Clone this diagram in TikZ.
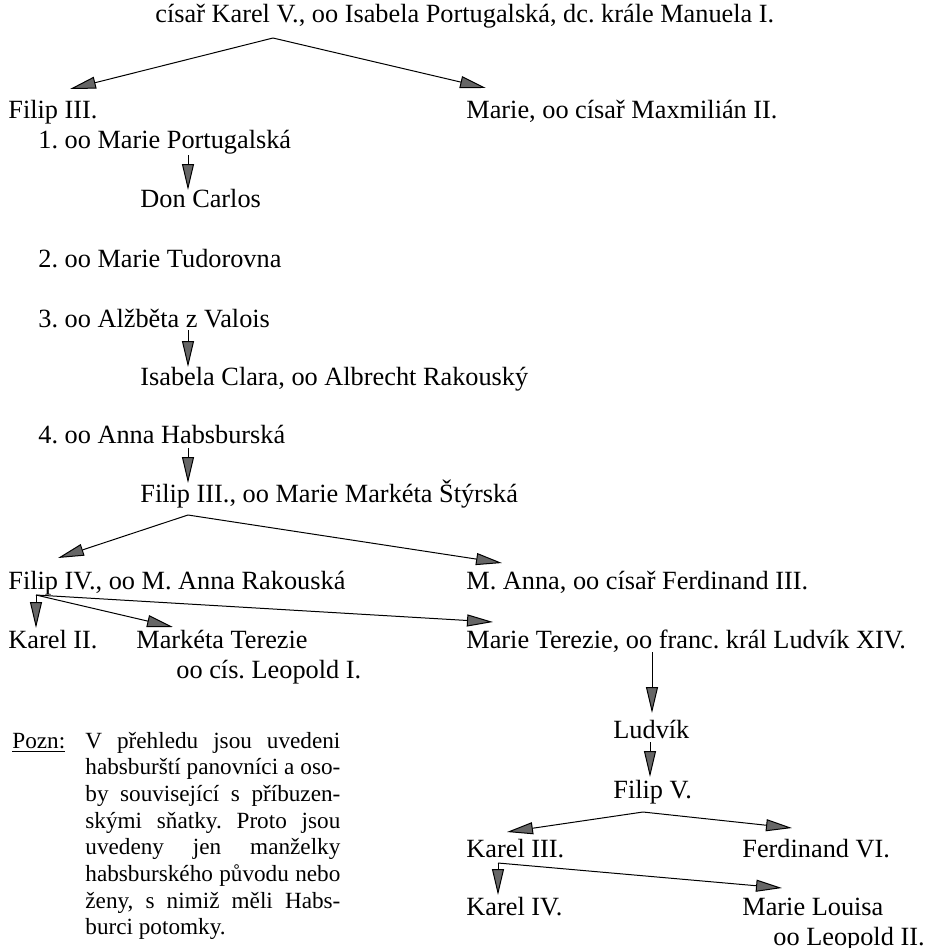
\documentclass[tikz,border=0pt]{standalone}
\usepackage{fontspec}
\setmainfont{Liberation Serif}
\usetikzlibrary{arrows.meta}
\frenchspacing

\begin{document}
\begin{tikzpicture}[x=0.5pt,y=-0.5pt]
    \tikzstyle{edge}=[draw,line width = .5pt,black,-{Triangle[length=13pt,width=6pt,fill=black!60]}]
    \tikzstyle{person}=[anchor=base west,inner sep=0pt,font=\fontsize{13.15}{15}\selectfont]
    \tikzstyle{note}=[anchor=base west,inner sep=0pt,font=\fontsize{11.6}{13.35}\selectfont]
    \useasboundingbox (0,0) rectangle (931,948);
    % people
    \node[person] (karel5) at (155,22) {císař Karel V., oo Isabela Portugalská, dc. krále Manuela I.};
    \node[person] (filip2) at (8,118) {Filip III.};
    \node[person] (marie) at (466,118) {Marie, oo císař Maxmilián II.};
    \node[person] (wife1) at (38,148) {1. oo Marie Portugalská};
    \node[person] (carlos) at (140,207) {Don Carlos};
    \node[person] (wife2) at (38,267) {2. oo Marie Tudorovna};
    \node[person] (wife3) at (38,327) {3. oo Alžběta z Valois};
    \node[person] (isabela) at (140,385) {Isabela Clara, oo Albrecht Rakouský};
    \node[person] (wife4) at (38,443) {4. oo Anna Habsburská};
    \node[person] (filip3) at (140,502) {Filip III., oo Marie Markéta Štýrská};
    \node[person] (filip4) at (8,589) {Filip IV., oo M. Anna Rakouská};
    \node[person] (manna) at (466,589) {M. Anna, oo císař Ferdinand III.};
    \node[person] (karel2) at (8,648) {Karel II.};
    \node[person] (marketa) at (136,648) {Markéta Terezie};
    \node[person] (leopold1) at (176,678) {oo cís. Leopold I.};
    \node[person] (mterezie) at (466,648) {Marie Terezie, oo franc. král Ludvík XIV.};
    \node[person] (ludvik) at (613,738) {Ludvík};
    \node[person] (filip5) at (613,798) {Filip V.};
    \node[person] (karel3) at (466,857) {Karel III.};
    \node[person] (ferd6) at (742,857) {Ferdinand VI.};
    \node[person] (karel4) at (466,915) {Karel IV.};
    \node[person] (mlouisa) at (742,915) {Marie Louisa};
    \node[person,anchor=base east] (leopold2) at (925,945) {oo Leopold II.};
    % note
    \node[note] (pozn) at (12,748) {\underline{Pozn:}};
    \node[note] (pozntext) at (85,748) {\parbox[t]{127.5pt}{%
        \makebox[\linewidth][s]{V přehledu jsou uvedeni}\\
        \makebox[\linewidth][s]{habsburští panovníci a oso-}\\
        \makebox[\linewidth][s]{by související s příbuzen-}\\
        \makebox[\linewidth][s]{skými sňatky. Proto jsou}\\
        \makebox[\linewidth][s]{uvedeny jen manželky}\\
        \makebox[\linewidth][s]{habsburského původu nebo}\\
        \makebox[\linewidth][s]{ženy, s nimiž měli Habs-}\\
        burci potomky.}};
    % branch points and tips
    \coordinate (k5out) at (273,38);
    \coordinate (f2in) at (70,89);
    \coordinate (marin) at (486,88);
    \coordinate (w1out) at (188,155);
    \coordinate (carin) at (188,190);
    \coordinate (w3out) at (188,330);
    \coordinate (isin) at (188,367);
    \coordinate (w4out) at (188,448);
    \coordinate (f3in) at (188,483);
    \coordinate (f3out) at (188,515);
    \coordinate (f4in) at (58,558);
    \coordinate (mannain) at (502,563);
    \coordinate (f4out) at (36,595);
    \coordinate (k2in) at (36,628);
    \coordinate (mtin) at (173,627);
    \coordinate (mterin) at (493,622);
    \coordinate (mterout) at (652,652);
    \coordinate (ludin) at (652,713);
    \coordinate (ludout) at (650,742);
    \coordinate (f5in) at (650,777);
    \coordinate (f5out) at (643,812);
    \coordinate (k3in) at (507,832);
    \coordinate (fd6in) at (792,828);
    \coordinate (k3out) at (498,863);
    \coordinate (k4in) at (498,895);
    \coordinate (mlin) at (782,888);
    % arrows
    \draw[edge] (k5out) -- (f2in);
    \draw[edge] (k5out) -- (marin);
    \draw[edge] (w1out) -- (carin);
    \draw[edge] (w3out) -- (isin);
    \draw[edge] (w4out) -- (f3in);
    \draw[edge] (f3out) -- (f4in);
    \draw[edge] (f3out) -- (mannain);
    \draw[edge] (f4out) -- (k2in);
    \draw[edge] (f4out) -- (mtin);
    \draw[edge] (f4out) -- (mterin);
    \draw[edge] (mterout) -- (ludin);
    \draw[edge] (ludout) -- (f5in);
    \draw[edge] (f5out) -- (k3in);
    \draw[edge] (f5out) -- (fd6in);
    \draw[edge] (k3out) -- (k4in);
    \draw[edge] (k3out) -- (mlin);
\end{tikzpicture}
\end{document}
